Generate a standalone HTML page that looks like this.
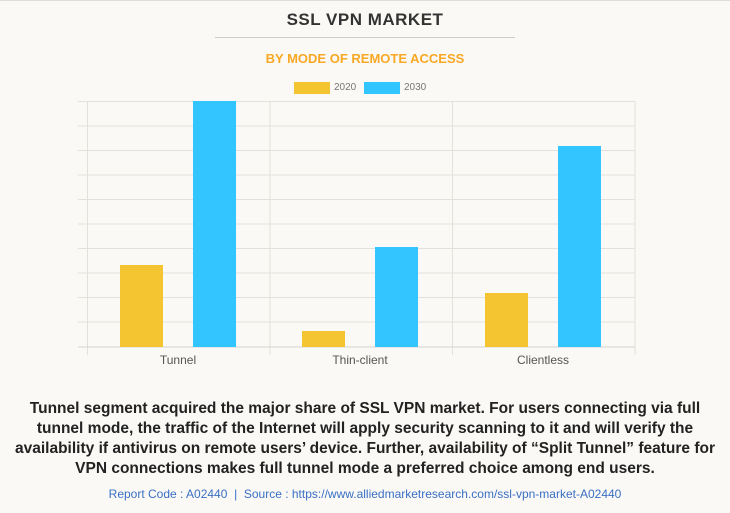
<!DOCTYPE html>
<html><head><style>
body{margin:0;width:730px;height:513px;background:#faf9f5;font-family:"Liberation Sans",sans-serif;position:relative;overflow:hidden}
.a{position:absolute}
</style></head><body>
<div class="a" style="left:0;top:0;width:730px;height:1px;background:#ddd"></div>
<div class="a" style="left:0;top:10px;width:730px;text-align:center;font-weight:bold;font-size:17px;color:#333;letter-spacing:0.5px">SSL VPN MARKET</div>
<div class="a" style="left:215px;top:37px;width:300px;height:1px;background:#ccc"></div>
<div class="a" style="left:0;top:51px;width:730px;text-align:center;font-weight:bold;font-size:13px;color:#f9a825">BY MODE OF REMOTE ACCESS</div>
<div class="a" style="left:294px;top:82px;width:36px;height:12px;background:#f5c431"></div>
<div class="a" style="left:334px;top:82px;font-size:10px;color:#777">2020</div>
<div class="a" style="left:364px;top:82px;width:36px;height:12px;background:#33c5ff"></div>
<div class="a" style="left:404px;top:82px;font-size:10px;color:#777">2030</div>
<svg class="a" style="left:0;top:0" width="730" height="380">
<g stroke="#e3e1dc" stroke-width="1">
<line x1="78" x2="635" y1="101.5" y2="101.5"/><line x1="78" x2="635" y1="126" y2="126"/><line x1="78" x2="635" y1="150.5" y2="150.5"/><line x1="78" x2="635" y1="175" y2="175"/><line x1="78" x2="635" y1="199.5" y2="199.5"/><line x1="78" x2="635" y1="224" y2="224"/><line x1="78" x2="635" y1="248.5" y2="248.5"/><line x1="78" x2="635" y1="273" y2="273"/><line x1="78" x2="635" y1="297.5" y2="297.5"/><line x1="78" x2="635" y1="322" y2="322"/>
<line x1="87.5" x2="87.5" y1="101" y2="355"/><line x1="270" x2="270" y1="101" y2="355"/><line x1="452.5" x2="452.5" y1="101" y2="355"/><line x1="635" x2="635" y1="101" y2="355"/>
</g>
<line x1="78" x2="635" y1="347" y2="347" stroke="#d6d4cf"/>
<rect x="120" y="265" width="43" height="82" fill="#f5c431"/>
<rect x="193" y="101" width="43" height="246" fill="#33c5ff"/>
<rect x="302" y="331" width="43" height="16" fill="#f5c431"/>
<rect x="375" y="247" width="43" height="100" fill="#33c5ff"/>
<rect x="485" y="293" width="43" height="54" fill="#f5c431"/>
<rect x="558" y="146" width="43" height="201" fill="#33c5ff"/>
<g font-size="12" fill="#555" text-anchor="middle" font-family="Liberation Sans,sans-serif">
<text x="178" y="364">Tunnel</text><text x="360" y="364">Thin-client</text><text x="543" y="364">Clientless</text>
</g>
</svg>
<div class="a" style="left:10px;top:399px;width:710px;text-align:center;font-weight:bold;font-size:15.5px;line-height:20px;color:#222">Tunnel segment acquired the major share of SSL VPN market. For users connecting via full tunnel mode, the traffic of the Internet will apply security scanning to it and will verify the availability if antivirus on remote users’ device. Further, availability of “Split Tunnel” feature for VPN connections makes full tunnel mode a preferred choice among end users.</div>
<div class="a" style="left:0;top:487px;width:730px;text-align:center;font-size:12px;color:#3a6fc4">Report Code : A02440 &nbsp;|&nbsp; Source : https://www.alliedmarketresearch.com/ssl-vpn-market-A02440</div>
</body></html>
